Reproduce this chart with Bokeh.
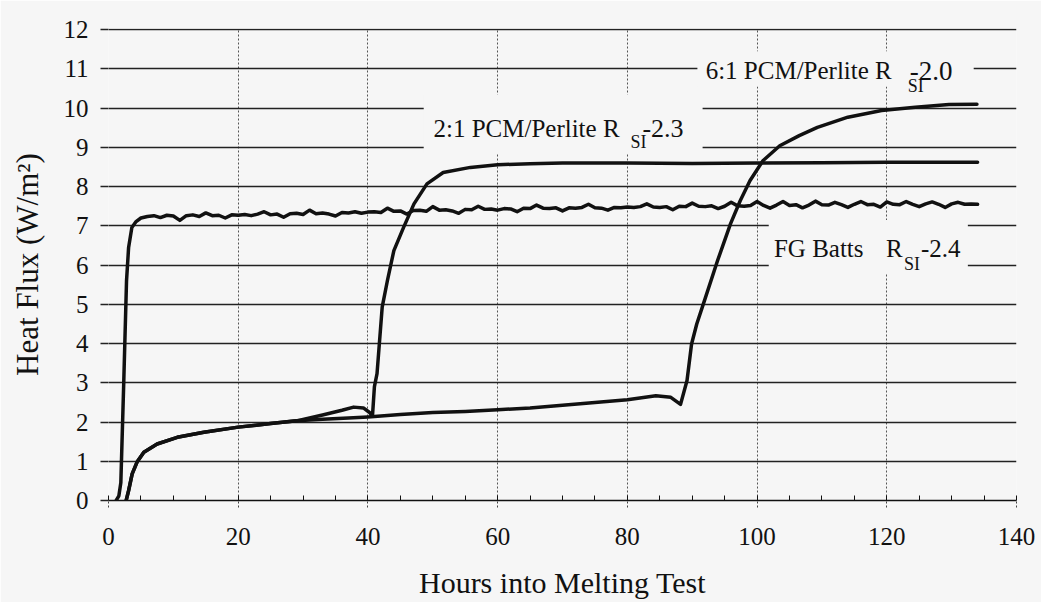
from bokeh.plotting import figure
from bokeh.models import Range1d, SingleIntervalTicker, Label, BoxAnnotation
from bokeh.embed import file_html
from bokeh.resources import INLINE

# ---------------- data ----------------
x_tick_step = 20
y_tick_step = 1

fg_hours = [0.0, 0.3, 1.0, 1.6, 1.9, 2.36, 2.78, 3.1, 3.6, 4.2, 5.0] + list(range(6, 135))
fg_flux = [-0.25, -0.22, -0.05, 0.12, 0.45, 3.06, 5.6, 6.45, 6.96, 7.1, 7.2,
           # 6..20
           7.24, 7.26, 7.21, 7.27, 7.25, 7.14, 7.26, 7.28, 7.24, 7.33, 7.26, 7.27, 7.20, 7.28, 7.27,
           # 21..40
           7.29, 7.26, 7.30, 7.36, 7.28, 7.30, 7.22, 7.31, 7.32, 7.29, 7.40, 7.31, 7.33, 7.30, 7.25,
           7.34, 7.33, 7.36, 7.32, 7.35,
           # 41..60
           7.36, 7.34, 7.45, 7.37, 7.38, 7.30, 7.39, 7.40, 7.37, 7.49, 7.40, 7.41, 7.38, 7.32, 7.42,
           7.41, 7.50, 7.42, 7.43, 7.40,
           # 61..80
           7.44, 7.43, 7.36, 7.45, 7.44, 7.53, 7.45, 7.44, 7.46, 7.38, 7.46, 7.45, 7.47, 7.55, 7.46,
           7.45, 7.40, 7.47, 7.46, 7.48,
           # 81..100
           7.47, 7.49, 7.56, 7.48, 7.47, 7.49, 7.41, 7.50, 7.49, 7.58, 7.50, 7.49, 7.51, 7.44, 7.50,
           7.60, 7.51, 7.50, 7.52, 7.62,
           # 101..120
           7.52, 7.45, 7.53, 7.62, 7.52, 7.54, 7.46, 7.53, 7.63, 7.54, 7.53, 7.60, 7.54, 7.47, 7.55,
           7.62, 7.54, 7.55, 7.48, 7.61,
           # 121..134
           7.55, 7.54, 7.62, 7.55, 7.49, 7.56, 7.61, 7.55, 7.47, 7.56, 7.60, 7.55, 7.56, 7.55]

pcm21_hours = [0.3, 1.0, 2.0, 2.6, 3.1, 3.65, 4.4, 5.45, 7.5, 10.6, 14.7, 20, 25, 29, 33, 36,
               37.8, 39.3, 40.2, 40.7, 41.0, 41.4, 42.2, 43, 44, 45.5, 47.1, 49.1, 51.6, 55.8,
               60, 65, 70, 80, 90, 100, 110, 120, 134]
pcm21_flux = [-0.18, -0.12, -0.1, -0.08, 0.25, 0.68, 0.98, 1.23, 1.44, 1.61, 1.74, 1.87, 1.96,
              2.03, 2.18, 2.3, 2.38, 2.36, 2.25, 2.15, 2.9, 3.23, 4.93, 5.6, 6.37, 6.96, 7.56,
              8.07, 8.36, 8.49, 8.56, 8.58, 8.6, 8.6, 8.59, 8.6, 8.61, 8.62, 8.62]

pcm61_hours = [0.3, 1.0, 2.0, 2.6, 3.1, 3.65, 4.4, 5.45, 7.5, 10.6, 14.7, 20, 25, 29, 33, 37,
               40, 45, 50, 55, 60, 65, 70, 75, 80, 84.4, 86.7, 88.2, 89.2, 89.9, 90.7, 91.9,
               93.9, 95.9, 97.4, 98.9, 100.9, 103.5, 106.5, 109.3, 114, 119.2, 124.4, 129.6,
               133.9]
pcm61_flux = [-0.18, -0.12, -0.1, -0.08, 0.25, 0.68, 0.98, 1.23, 1.44, 1.61, 1.74, 1.87, 1.96,
              2.03, 2.07, 2.1, 2.13, 2.19, 2.24, 2.27, 2.31, 2.36, 2.43, 2.5, 2.57, 2.67, 2.63,
              2.45, 3.06, 3.99, 4.5, 5.1, 6.11, 7.05, 7.64, 8.15, 8.66, 9.04, 9.3, 9.51, 9.77,
              9.94, 10.02, 10.09, 10.1]

x_title = "Hours into Melting Test"
y_title = "Heat Flux (W/m²)"

# annotation labels
label_61 = ("6:1 PCM/Perlite R", "SI", "-2.0")
label_21 = ("2:1 PCM/Perlite R", "SI", "-2.3")
label_fg = ("FG Batts", "R", "SI", "-2.4")

# ---------------- styling ----------------
BG = "#f6f6f6"
INK = "#111111"
FONT = "Liberation Serif"

p = figure(width=1041, height=602,
           x_range=Range1d(0, 140), y_range=Range1d(0, 12.03),
           output_backend="svg", toolbar_location=None,
           min_border_left=108, min_border_right=25, min_border_top=28, min_border_bottom=102)
p.background_fill_color = BG
p.border_fill_color = BG
p.outline_line_color = None

ax = p.xaxis[0]
ax.ticker = SingleIntervalTicker(interval=x_tick_step, num_minor_ticks=4)
ax.axis_line_color = INK
ax.axis_line_width = 1.5
ax.major_tick_out = 7
ax.major_tick_in = 0
ax.major_tick_line_color = "#444444"
ax.major_tick_line_dash = "2 2"
ax.minor_tick_in = 5
ax.minor_tick_out = 0
ax.minor_tick_line_color = INK
ax.major_label_standoff = 20
ax.major_label_text_font = FONT
ax.major_label_text_font_size = "25px"
ax.major_label_text_color = INK
ax.axis_label = x_title
ax.axis_label_text_font = FONT
ax.axis_label_text_font_size = "30px"
ax.axis_label_text_font_style = "normal"
ax.axis_label_text_color = INK
ax.axis_label_standoff = 18

ay = p.yaxis[0]
ay.ticker = SingleIntervalTicker(interval=y_tick_step, num_minor_ticks=0)
ay.axis_line_color = None
ay.major_tick_out = 8
ay.major_tick_in = 0
ay.major_tick_line_color = "#222222"
ay.major_tick_line_width = 1.3
ay.minor_tick_in = 0
ay.minor_tick_out = 0
ay.major_label_standoff = 12
ay.major_label_text_font = FONT
ay.major_label_text_font_size = "25px"
ay.major_label_text_color = INK
ay.axis_label = y_title
ay.axis_label_text_font = FONT
ay.axis_label_text_font_size = "31px"
ay.axis_label_text_font_style = "normal"
ay.axis_label_text_color = INK
ay.axis_label_standoff = 16

p.xgrid.grid_line_color = "#555555"
p.xgrid.grid_line_dash = "2 2"
p.xgrid.grid_line_width = 1
p.ygrid.grid_line_color = "#222222"
p.ygrid.grid_line_width = 1.3

for hx, fy in ((fg_hours, fg_flux), (pcm21_hours, pcm21_flux), (pcm61_hours, pcm61_flux)):
    p.line(hx, fy, line_width=3.5, line_color=INK, line_join="round", line_cap="round")

# background boxes behind the curve labels (they interrupt the grid lines)
for l, r, b, t in ((90.8, 133.4, 10.55, 11.45), (48.6, 91.6, 8.85, 10.35), (101.8, 132.5, 5.8, 7.15)):
    p.add_layout(BoxAnnotation(left=l, right=r, bottom=b, top=t, fill_color=BG, fill_alpha=1,
                               line_color=None))


def add_text(x, y, text, size, dx=0, dy=0, align="left"):
    p.add_layout(Label(x=x, y=y, x_offset=dx, y_offset=dy, text=text, text_font=FONT,
                       text_font_size=size, text_color=INK, text_baseline="alphabetic",
                       text_align=align))


add_text(92.07, 10.955, label_61[0], "25px")
add_text(92.07, 10.955, label_61[1], "18px", dx=202, dy=-15)
add_text(92.07, 10.955, label_61[2], "27px", dx=204)

add_text(50.1, 9.48, label_21[0], "25px")
add_text(50.1, 9.48, label_21[1], "18px", dx=197, dy=-13)
add_text(50.1, 9.48, label_21[2], "26px", dx=209)

add_text(102.6, 6.42, label_fg[0], "25px")
add_text(102.6, 6.42, label_fg[1], "25px", dx=112)
add_text(102.6, 6.42, label_fg[2], "18px", dx=130, dy=-15)
add_text(102.6, 6.42, label_fg[3], "25px", dx=147)

open("out.html", "w").write(file_html(p, INLINE))
